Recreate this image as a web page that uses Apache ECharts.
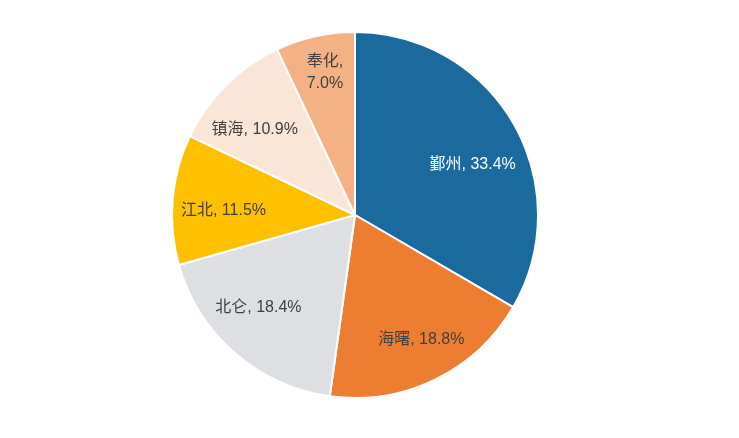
<!DOCTYPE html>
<html>
<head>
<meta charset="utf-8">
<script src="https://cdn.jsdelivr.net/npm/echarts@6/dist/echarts.min.js"></script>
<style>
html,body{margin:0;padding:0;background:#fff;}
#c{width:739px;height:438px;}
</style>
</head>
<body>
<div id="c"></div>
<script>
var categories = ['鄞州', '海曙', '北仑', '江北', '镇海', '奉化'];
var shares = [33.4, 18.8, 18.4, 11.5, 10.9, 7.0];
var colors = ['#1a6a9e', '#ed7d31', '#dedfe3', '#ffc000', '#fbe5d6', '#f4b183'];
var labelColors = ['#ffffff', '#404040', '#404040', '#404040', '#404040', '#404040'];
// small label nudges (px) to match the reference label placement
var labelNudge = [[-2, 18], [6, 0], [-6, -11], [6, 7], [-3, 12], [0, -8]];

var chart = echarts.init(document.getElementById('c'));
var mainData = categories.map(function (n, i) {
  return { name: n, value: shares[i], itemStyle: { color: colors[i] } };
});
var labelData = categories.map(function (n, i) {
  var item = { name: n, value: shares[i], label: { color: labelColors[i] } };
  if (shares[i] < 8) {
    item.label.formatter = function (p) { return p.name + ',\n' + p.value.toFixed(1) + '%'; };
  }
  return item;
});
chart.setOption({
  animation: false,
  series: [
    {
      type: 'pie',
      center: [355, 215],
      radius: [0, 183],
      startAngle: 90,
      clockwise: true,
      silent: true,
      label: { show: false },
      labelLine: { show: false },
      itemStyle: { borderColor: '#ffffff', borderWidth: 2 },
      data: mainData
    },
    {
      type: 'pie',
      center: [355, 215],
      radius: [87, 183],
      startAngle: 90,
      clockwise: true,
      silent: true,
      itemStyle: { color: 'rgba(0,0,0,0)', borderWidth: 0 },
      labelLine: { show: false },
      label: {
        show: true,
        position: 'inside',
        fontSize: 16,
        lineHeight: 22,
        fontFamily: 'Liberation Sans, Arial, Noto Sans CJK SC, sans-serif',
        formatter: function (p) { return p.name + ', ' + p.value.toFixed(1) + '%'; }
      },
      labelLayout: function (p) {
        var d = labelNudge[p.dataIndex];
        return { dx: d[0], dy: d[1] };
      },
      data: labelData
    }
  ]
});
</script>
</body>
</html>
